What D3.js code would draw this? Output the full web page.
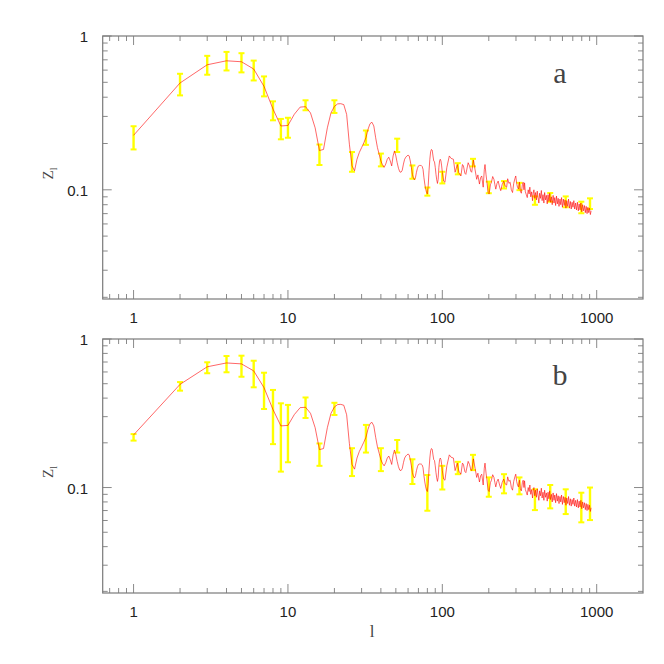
<!DOCTYPE html>
<html lang="en">
<head>
<meta charset="UTF-8">
<title>Z_l</title>
<script src="https://cdn.jsdelivr.net/npm/d3@7"></script>
<style>
  body { margin: 0; background: #fff; }
</style>
</head>
<body>
<script>
// model curve, one value per multipole
var ell = [1, 2, 3, 4, 5, 6, 7, 8, 9, 10, 11, 12, 13, 14, 15, 16, 17, 18, 19, 20,
  21, 22, 23, 24, 25, 26, 27, 28, 29, 30, 31, 32, 33, 34, 35, 36, 37, 38, 39, 40,
  41, 42, 43, 44, 45, 46, 47, 48, 49, 50, 51, 52, 53, 54, 55, 56, 57, 58, 59, 60,
  61, 62, 63, 64, 65, 66, 67, 68, 69, 70, 71, 72, 73, 74, 75, 76, 77, 78, 79, 80,
  81, 82, 83, 84, 85, 86, 87, 88, 89, 90, 91, 92, 93, 94, 95, 96, 97, 98, 99, 100,
  102, 104, 107, 111, 114, 118, 121, 125, 128, 132, 135, 137, 140, 142, 147, 150, 153, 155, 159, 163,
  167, 170, 174, 177, 180, 184, 187, 189, 192, 194, 198, 201, 205, 208, 212, 216, 219, 222, 226, 230,
  235, 239, 244, 250, 255, 261, 265, 270, 275, 280, 285, 290, 295, 299, 303, 307, 311, 316, 320, 325,
  330, 334, 338, 341, 345, 350, 355, 360, 365, 369, 374, 379, 384, 388, 392, 397, 402, 407, 412, 417,
  422, 427, 432, 438, 443, 449, 455, 460, 466, 472, 478, 484, 490, 496, 502, 509, 515, 522, 529, 535,
  542, 549, 556, 563, 570, 578, 585, 592, 600, 608, 616, 624, 632, 640, 649, 657, 666, 675, 684, 693,
  702, 711, 720, 730, 740, 750, 760, 770, 780, 790, 800, 811, 822, 833, 844, 855, 866, 877, 888, 899,
  910, 920];
var zl = [0.226, 0.495, 0.65, 0.69, 0.68, 0.61, 0.47, 0.335, 0.26, 0.262, 0.31, 0.345, 0.347, 0.316, 0.253, 0.18, 0.183, 0.253, 0.316, 0.349,
  0.362, 0.363, 0.358, 0.309, 0.198, 0.143, 0.133, 0.158, 0.175, 0.188, 0.202, 0.218, 0.247, 0.269, 0.275, 0.26, 0.218, 0.188, 0.17, 0.154,
  0.145, 0.14, 0.147, 0.158, 0.163, 0.154, 0.143, 0.166, 0.179, 0.166, 0.15, 0.138, 0.131, 0.13, 0.134, 0.147, 0.158, 0.163, 0.166, 0.168,
  0.166, 0.154, 0.14, 0.126, 0.119, 0.116, 0.12, 0.13, 0.138, 0.143, 0.144, 0.144, 0.144, 0.142, 0.136, 0.12, 0.109, 0.101, 0.096, 0.094,
  0.106, 0.133, 0.158, 0.177, 0.183, 0.181, 0.166, 0.154, 0.152, 0.14, 0.126, 0.116, 0.11, 0.117, 0.14, 0.154, 0.158, 0.154, 0.143, 0.13,
  0.114, 0.112, 0.14, 0.166, 0.16, 0.158, 0.13, 0.146, 0.129, 0.123, 0.146, 0.143, 0.128, 0.126, 0.15, 0.143, 0.132, 0.13, 0.156, 0.135,
  0.117, 0.125, 0.109, 0.12, 0.123, 0.104, 0.135, 0.146, 0.125, 0.115, 0.096, 0.094, 0.108, 0.112, 0.122, 0.117, 0.108, 0.101, 0.11, 0.114,
  0.104, 0.0987, 0.108, 0.114, 0.106, 0.104, 0.118, 0.11, 0.112, 0.1, 0.096, 0.11, 0.118, 0.123, 0.11, 0.104, 0.101, 0.112, 0.098, 0.095,
  0.108, 0.112, 0.1, 0.111, 0.097, 0.093, 0.089, 0.1, 0.094, 0.104, 0.09, 0.097, 0.085, 0.095, 0.1, 0.088, 0.096, 0.086, 0.098, 0.089,
  0.082, 0.095, 0.088, 0.099, 0.085, 0.093, 0.082, 0.096, 0.086, 0.092, 0.081, 0.093, 0.084, 0.095, 0.083, 0.09, 0.08, 0.092, 0.082, 0.089,
  0.079, 0.091, 0.081, 0.088, 0.078, 0.087, 0.08, 0.089, 0.077, 0.087, 0.079, 0.086, 0.076, 0.085, 0.078, 0.087, 0.076, 0.084, 0.075, 0.083,
  0.077, 0.085, 0.075, 0.082, 0.074, 0.083, 0.073, 0.081, 0.074, 0.082, 0.072, 0.08, 0.073, 0.079, 0.071, 0.078, 0.07, 0.077, 0.071, 0.076,
  0.069, 0.073];

// binned estimates with error bars
var barL = [1, 2, 3, 4, 5, 6, 7, 8, 9, 10, 13, 16, 20, 26, 32, 40, 51, 64, 80, 100,
  126, 158, 200, 251, 316, 398, 500, 630, 795, 905];
var aLo = [0.183, 0.411, 0.56, 0.597, 0.58, 0.514, 0.405, 0.283, 0.213, 0.218, 0.329, 0.145, 0.316, 0.131, 0.196, 0.142, 0.176, 0.118, 0.0916, 0.110,
  0.126, 0.142, 0.095, 0.102, 0.0995, 0.0799, 0.0837, 0.0770, 0.0704, 0.0750];
var aHi = [0.259, 0.568, 0.743, 0.788, 0.773, 0.692, 0.546, 0.376, 0.289, 0.294, 0.382, 0.197, 0.382, 0.176, 0.243, 0.172, 0.215, 0.144, 0.1035, 0.131,
  0.149, 0.159, 0.113, 0.114, 0.111, 0.0906, 0.0953, 0.0906, 0.0837, 0.0880];
var bLo = [0.207, 0.449, 0.588, 0.597, 0.557, 0.473, 0.338, 0.196, 0.128, 0.148, 0.294, 0.14, 0.308, 0.1195, 0.172, 0.129, 0.172, 0.1056, 0.0698, 0.097,
  0.123, 0.131, 0.0867, 0.0914, 0.090, 0.0705, 0.0724, 0.0663, 0.0583, 0.0604];
var bHi = [0.229, 0.513, 0.697, 0.768, 0.772, 0.714, 0.593, 0.454, 0.369, 0.36, 0.404, 0.198, 0.372, 0.184, 0.264, 0.184, 0.209, 0.155, 0.1214, 0.14,
  0.149, 0.166, 0.117, 0.123, 0.117, 0.0973, 0.104, 0.0973, 0.0923, 0.100];

var xTicks = [1, 10, 100, 1000];
var xTickLabels = ["1", "10", "100", "1000"];
var yTicks = [0.1, 1];
var yTickLabels = ["0.1", "1"];
var panelNames = ["a", "b"];

var w = 664, h = 664;
var left = 102.7, right = 643;

var svg = d3.select("body").append("svg")
  .attr("width", w)
  .attr("height", h)
  .style("background-color", "#fff");

var x = d3.scaleLog().domain([0.631, 1995]).range([left, right]);

var curve = ell.map(function(l, i) { return [l, zl[i]]; });

var xMinor = [], yMinor = [];
[0.1, 1, 10, 100, 1000].forEach(function(dec) {
  for (var k = 2; k <= 9; k++) xMinor.push(dec * k);
});
[0.01, 0.1].forEach(function(dec) {
  for (var k = 2; k <= 9; k++) yMinor.push(dec * k);
});
xMinor = xMinor.filter(function(v) { return v > 0.631 && v < 1995; });
yMinor = yMinor.filter(function(v) { return v > 0.0195 && v < 1; });

function panel(top, bottom, lo, hi, name) {
  var y = d3.scaleLog().domain([0.0195, 1]).range([bottom, top]);
  var g = svg.append("g");

  // ticks on all four sides, pointing inward
  var tickCol = "#8a8a8a";
  xMinor.forEach(function(v) {
    g.append("line").attr("x1", x(v)).attr("x2", x(v)).attr("y1", bottom).attr("y2", bottom - 5).attr("stroke", tickCol);
    g.append("line").attr("x1", x(v)).attr("x2", x(v)).attr("y1", top).attr("y2", top + 5).attr("stroke", tickCol);
  });
  xTicks.forEach(function(v) {
    g.append("line").attr("x1", x(v)).attr("x2", x(v)).attr("y1", bottom).attr("y2", bottom - 9).attr("stroke", tickCol);
    g.append("line").attr("x1", x(v)).attr("x2", x(v)).attr("y1", top).attr("y2", top + 9).attr("stroke", tickCol);
  });
  yMinor.forEach(function(v) {
    g.append("line").attr("x1", left).attr("x2", left + 5).attr("y1", y(v)).attr("y2", y(v)).attr("stroke", tickCol);
    g.append("line").attr("x1", right).attr("x2", right - 5).attr("y1", y(v)).attr("y2", y(v)).attr("stroke", tickCol);
  });
  yTicks.forEach(function(v) {
    g.append("line").attr("x1", left).attr("x2", left + 9).attr("y1", y(v)).attr("y2", y(v)).attr("stroke", tickCol);
    g.append("line").attr("x1", right).attr("x2", right - 9).attr("y1", y(v)).attr("y2", y(v)).attr("stroke", tickCol);
  });

  g.append("rect")
    .attr("x", left).attr("y", top)
    .attr("width", right - left).attr("height", bottom - top)
    .attr("fill", "none")
    .attr("stroke", "#7a7a7a")
    .attr("stroke-width", 1.2);

  // tick labels
  g.selectAll("text.xl").data(xTicks).enter().append("text")
    .attr("class", "xl")
    .attr("x", function(d) { return x(d); })
    .attr("y", bottom + 24)
    .attr("text-anchor", "middle")
    .style("font-family", "'Liberation Sans', Arial, sans-serif")
    .style("font-size", "15px")
    .attr("fill", "#222")
    .text(function(d, i) { return xTickLabels[i]; });

  g.selectAll("text.yl").data(yTicks).enter().append("text")
    .attr("class", "yl")
    .attr("x", 88)
    .attr("y", function(d) { return y(d) + 6; })
    .attr("text-anchor", "end")
    .style("font-family", "'Liberation Sans', Arial, sans-serif")
    .style("font-size", "15px")
    .attr("fill", "#222")
    .text(function(d, i) { return yTickLabels[i]; });

  // y axis title Z_l
  var yt = g.append("text")
    .attr("transform", "translate(53," + ((top + bottom) / 2 + 6) + ") rotate(-90)")
    .attr("text-anchor", "middle")
    .style("font-family", "'Liberation Serif', 'Times New Roman', serif")
    .style("font-size", "15px")
    .attr("fill", "#444");
  yt.append("tspan").text("Z");
  yt.append("tspan").attr("dy", 4).style("font-size", "10px").text("l");

  // panel letter
  g.append("text")
    .attr("x", 560)
    .attr("y", top + (name === "a" ? 47 : 46))
    .attr("text-anchor", "middle")
    .style("font-family", "'Liberation Serif', 'Times New Roman', serif")
    .style("font-size", "30px")
    .attr("fill", "#444")
    .text(name);

  // error bars
  var bars = g.selectAll("g.bar").data(barL).enter().append("g").attr("class", "bar");
  bars.append("line")
    .attr("x1", function(d) { return x(d); }).attr("x2", function(d) { return x(d); })
    .attr("y1", function(d, i) { return y(lo[i]); }).attr("y2", function(d, i) { return y(hi[i]); })
    .attr("stroke", "#ffff00").attr("stroke-width", 2.4);
  bars.append("line")
    .attr("x1", function(d) { return x(d) - 3; }).attr("x2", function(d) { return x(d) + 3; })
    .attr("y1", function(d, i) { return y(lo[i]); }).attr("y2", function(d, i) { return y(lo[i]); })
    .attr("stroke", "#ffff00").attr("stroke-width", 2);
  bars.append("line")
    .attr("x1", function(d) { return x(d) - 3; }).attr("x2", function(d) { return x(d) + 3; })
    .attr("y1", function(d, i) { return y(hi[i]); }).attr("y2", function(d, i) { return y(hi[i]); })
    .attr("stroke", "#ffff00").attr("stroke-width", 2);

  // model curve
  var line = d3.line()
    .x(function(d) { return x(d[0]); })
    .y(function(d) { return y(d[1]); });
  g.append("path")
    .datum(curve)
    .attr("d", line)
    .attr("fill", "none")
    .attr("stroke", "#ff0000")
    .attr("stroke-width", 0.6);
}

panel(36, 299, aLo, aHi, panelNames[0]);
panel(339, 593, bLo, bHi, panelNames[1]);

// x axis title
svg.append("text")
  .attr("x", 372)
  .attr("y", 637)
  .attr("text-anchor", "middle")
  .style("font-family", "'Liberation Serif', 'Times New Roman', serif")
  .style("font-size", "17px")
  .attr("fill", "#444")
  .text("l");
</script>
</body>
</html>
